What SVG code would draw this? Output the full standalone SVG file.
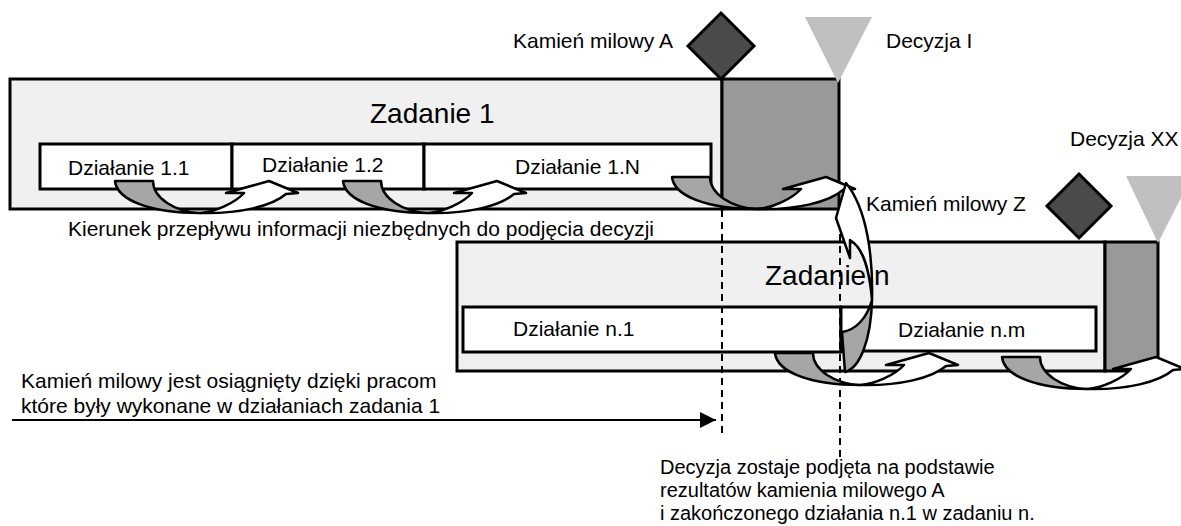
<svg xmlns="http://www.w3.org/2000/svg" xmlns:xlink="http://www.w3.org/1999/xlink" width="1181" height="526" viewBox="0 0 1181 526">
  <style>
    text { font-family: "Liberation Sans", Arial, sans-serif; fill: #000; }
    .lbl { font-size: 21px; }
    .note { font-size: 20px; }
    .title { font-size: 28px; }
    .task { fill: #f0f0f0; stroke: #000; stroke-width: 3; }
    .end { fill: #999999; stroke: #000; stroke-width: 3; }
    .act { fill: #ffffff; stroke: #000; stroke-width: 3; }
    .ms { fill: #4a4a4a; stroke: #000; stroke-width: 3; stroke-linejoin: miter; }
    .dec { fill: #c0c0c0; stroke: none; }
    .tail { fill: #a6a6a6; stroke: #000; stroke-width: 2.5; stroke-linejoin: round; }
    .head { fill: #ffffff; stroke: #000; stroke-width: 2.5; stroke-linejoin: round; }
    .guide { fill: none; stroke: #000; stroke-width: 2; stroke-dasharray: 7 5; }
  </style>
  <defs>
    <!-- curved "U-turn" arrow: shaded tail on the left, white head rising to the right -->
    <g id="uarrow">
      <path class="tail" d="M115,181 H153 C153,198 175,212 200,213 C150,213 117,200 115,181 Z"/>
      <path class="head" d="M200,213 C215,212 235,203 244,193 L226,193 L269,181 L298,193 L286,194 C272,206 240,214 200,213 Z"/>
    </g>
    <marker id="tri" viewBox="0 0 10 10" refX="10" refY="5" markerWidth="16" markerHeight="16" markerUnits="userSpaceOnUse" orient="auto">
      <path d="M0,0 L10,5 L0,10 Z" fill="#000"/>
    </marker>
  </defs>

  <!-- Zadanie 1 -->
  <g id="task1">
    <rect class="task" x="10" y="79" width="712" height="130"/>
    <rect class="end" x="722" y="79" width="117" height="130"/>
    <text class="title" x="370" y="123">Zadanie 1</text>
  </g>
  <g id="act11">
    <rect class="act" x="40" y="144" width="192" height="45"/>
    <text class="lbl" x="68" y="175">Działanie 1.1</text>
  </g>
  <g id="act12">
    <rect class="act" x="232" y="144" width="192" height="45"/>
    <text class="lbl" x="262" y="172">Działanie 1.2</text>
  </g>
  <g id="act1N">
    <rect class="act" x="424" y="144" width="287" height="45"/>
    <text class="lbl" x="515" y="174">Działanie 1.N</text>
  </g>

  <!-- Zadanie n -->
  <g id="taskn">
    <rect class="task" x="457" y="242" width="648" height="129"/>
    <rect class="end" x="1105" y="242" width="53" height="129"/>
    <text class="title" x="765" y="285">Zadanie n</text>
  </g>
  <g id="actn1">
    <rect class="act" x="463" y="307" width="378" height="45"/>
    <text class="lbl" x="513" y="336">Działanie n.1</text>
  </g>
  <g id="actnm">
    <rect class="act" x="841" y="307" width="255" height="44"/>
    <text class="lbl" x="898" y="337">Działanie n.m</text>
  </g>

  <!-- milestones and decisions -->
  <g id="milestoneA">
    <polygon class="ms" points="721,13 754,46 721,79 688,46"/>
    <text class="lbl" x="513" y="48">Kamień milowy A</text>
  </g>
  <g id="decisionI">
    <polygon class="dec" points="805,17 872,17 838,83"/>
    <text class="lbl" x="886" y="48">Decyzja I</text>
  </g>
  <g id="milestoneZ">
    <polygon class="ms" points="1079,174 1111,206 1079,238 1047,206"/>
    <text class="lbl" x="866" y="211">Kamień milowy Z</text>
  </g>
  <g id="decisionXX">
    <polygon class="dec" points="1126,176 1192,176 1158,243"/>
    <text class="lbl" x="1070" y="146">Decyzja XX</text>
  </g>

  <!-- connectors -->
  <g id="connectors">
    <line class="guide" x1="722" y1="210" x2="722" y2="438"/>
    <line class="guide" x1="840" y1="210" x2="840" y2="460"/>
    <use xlink:href="#uarrow"/>
    <use xlink:href="#uarrow" transform="translate(228,0)"/>
    <use xlink:href="#uarrow" transform="translate(557,-4)"/>
    <use xlink:href="#uarrow" transform="translate(660,172)"/>
    <use xlink:href="#uarrow" transform="translate(887,176)"/>
    <!-- rising arrow from Działanie n.1 up to the decision point -->
    <path class="tail" d="M842,332 L845,372 C860,368 871,340 872,300 C867,318 856,330 842,332 Z"/>
    <path class="head" d="M872,300 C873,260 868,210 846,183 L836,218 L850,258 L850,240 C862,247 869,265 872,300 Z"/>
    <line x1="12" y1="420" x2="716" y2="420" stroke="#000" stroke-width="2" marker-end="url(#tri)"/>
  </g>

  <!-- notes -->
  <g id="notes">
    <text class="lbl" x="68" y="236">Kierunek przepływu informacji niezbędnych do podjęcia decyzji</text>
    <text class="lbl" x="21" y="388">Kamień milowy jest osiągnięty dzięki pracom</text>
    <text class="lbl" x="21" y="413">które były wykonane w działaniach zadania 1</text>
    <text class="note" x="660" y="474">Decyzja zostaje podjęta na podstawie</text>
    <text class="note" x="660" y="497">rezultatów kamienia milowego A</text>
    <text class="note" x="660" y="520">i zakończonego działania n.1 w zadaniu n.</text>
  </g>
</svg>
